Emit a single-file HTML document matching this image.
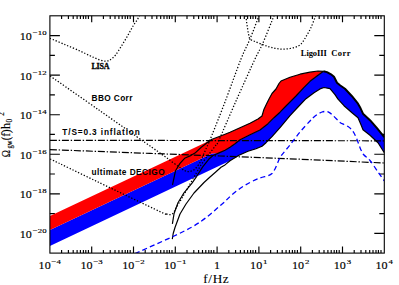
<!DOCTYPE html><html><head><meta charset="utf-8"><style>html,body{margin:0;padding:0;background:#fff}svg{display:block}</style></head><body><svg width="399" height="285" viewBox="0 0 399 285">
<rect width="399" height="285" fill="#fff"/>
<clipPath id="c"><rect x="49.9" y="15.8" width="334.4" height="237.3"/></clipPath>
<path d="M61.6,15.8v3.2M61.6,253.1v-3.2M68.4,15.8v3.2M68.4,253.1v-3.2M73.2,15.8v3.2M73.2,253.1v-3.2M77.1,15.8v3.2M77.1,253.1v-3.2M80.4,15.8v3.2M80.4,253.1v-3.2M83.4,15.8v3.2M83.4,253.1v-3.2M85.8,15.8v3.2M85.8,253.1v-3.2M88.4,15.8v3.2M88.4,253.1v-3.2M91.7,15.8v6.5M91.7,253.1v-6.5M103.4,15.8v3.2M103.4,253.1v-3.2M110.2,15.8v3.2M110.2,253.1v-3.2M115.0,15.8v3.2M115.0,253.1v-3.2M118.9,15.8v3.2M118.9,253.1v-3.2M122.2,15.8v3.2M122.2,253.1v-3.2M125.2,15.8v3.2M125.2,253.1v-3.2M127.6,15.8v3.2M127.6,253.1v-3.2M130.2,15.8v3.2M130.2,253.1v-3.2M133.5,15.8v6.5M133.5,253.1v-6.5M145.2,15.8v3.2M145.2,253.1v-3.2M152.0,15.8v3.2M152.0,253.1v-3.2M156.8,15.8v3.2M156.8,253.1v-3.2M160.7,15.8v3.2M160.7,253.1v-3.2M164.0,15.8v3.2M164.0,253.1v-3.2M167.0,15.8v3.2M167.0,253.1v-3.2M169.4,15.8v3.2M169.4,253.1v-3.2M172.0,15.8v3.2M172.0,253.1v-3.2M175.3,15.8v6.5M175.3,253.1v-6.5M187.0,15.8v3.2M187.0,253.1v-3.2M193.8,15.8v3.2M193.8,253.1v-3.2M198.6,15.8v3.2M198.6,253.1v-3.2M202.5,15.8v3.2M202.5,253.1v-3.2M205.8,15.8v3.2M205.8,253.1v-3.2M208.8,15.8v3.2M208.8,253.1v-3.2M211.2,15.8v3.2M211.2,253.1v-3.2M213.8,15.8v3.2M213.8,253.1v-3.2M217.1,15.8v6.5M217.1,253.1v-6.5M228.8,15.8v3.2M228.8,253.1v-3.2M235.6,15.8v3.2M235.6,253.1v-3.2M240.4,15.8v3.2M240.4,253.1v-3.2M244.3,15.8v3.2M244.3,253.1v-3.2M247.6,15.8v3.2M247.6,253.1v-3.2M250.6,15.8v3.2M250.6,253.1v-3.2M253.0,15.8v3.2M253.0,253.1v-3.2M255.6,15.8v3.2M255.6,253.1v-3.2M258.9,15.8v6.5M258.9,253.1v-6.5M270.6,15.8v3.2M270.6,253.1v-3.2M277.4,15.8v3.2M277.4,253.1v-3.2M282.2,15.8v3.2M282.2,253.1v-3.2M286.1,15.8v3.2M286.1,253.1v-3.2M289.4,15.8v3.2M289.4,253.1v-3.2M292.4,15.8v3.2M292.4,253.1v-3.2M294.8,15.8v3.2M294.8,253.1v-3.2M297.4,15.8v3.2M297.4,253.1v-3.2M300.7,15.8v6.5M300.7,253.1v-6.5M312.4,15.8v3.2M312.4,253.1v-3.2M319.2,15.8v3.2M319.2,253.1v-3.2M324.0,15.8v3.2M324.0,253.1v-3.2M327.9,15.8v3.2M327.9,253.1v-3.2M331.2,15.8v3.2M331.2,253.1v-3.2M334.2,15.8v3.2M334.2,253.1v-3.2M336.6,15.8v3.2M336.6,253.1v-3.2M339.2,15.8v3.2M339.2,253.1v-3.2M342.5,15.8v6.5M342.5,253.1v-6.5M354.2,15.8v3.2M354.2,253.1v-3.2M361.0,15.8v3.2M361.0,253.1v-3.2M365.8,15.8v3.2M365.8,253.1v-3.2M369.7,15.8v3.2M369.7,253.1v-3.2M373.0,15.8v3.2M373.0,253.1v-3.2M376.0,15.8v3.2M376.0,253.1v-3.2M378.4,15.8v3.2M378.4,253.1v-3.2M381.0,15.8v3.2M381.0,253.1v-3.2M49.9,233.3h10 M384.3,233.3h-10M49.9,213.6h5 M384.3,213.6h-5M49.9,193.8h10 M384.3,193.8h-10M49.9,174.0h5 M384.3,174.0h-5M49.9,154.2h10 M384.3,154.2h-10M49.9,134.4h5 M384.3,134.4h-5M49.9,114.7h10 M384.3,114.7h-10M49.9,94.9h5 M384.3,94.9h-5M49.9,75.1h10 M384.3,75.1h-10M49.9,55.3h5 M384.3,55.3h-5M49.9,35.6h10 M384.3,35.6h-10" stroke="#000" stroke-width="1.15" fill="none"/>
<g clip-path="url(#c)">
<path d="M49.9,230.0 L212.0,153.4 L219.0,152.9 L225.0,150.2 L230.0,147.2 L235.0,143.7 L240.0,139.7 L250.0,134.7 L260.0,130.0 L268.0,123.7 L274.0,117.7 L280.0,112.2 L285.0,107.0 L296.0,96.0 L304.0,87.3 L310.0,81.3 L318.0,75.2 L323.5,71.3 L327.0,72.1 L331.0,74.3 L334.0,76.7 L337.0,82.7 L340.0,85.2 L345.0,88.7 L352.0,96.2 L358.0,103.7 L360.0,107.2 L363.0,113.7 L370.0,120.2 L377.0,128.2 L384.3,137.2 L384.3,152.7 L378.0,142.7 L370.0,135.2 L363.0,129.7 L361.0,124.7 L358.0,117.7 L352.0,112.7 L344.0,105.7 L338.0,99.2 L335.0,94.7 L330.0,88.7 L324.0,87.5 L320.0,88.9 L314.0,92.7 L306.0,98.7 L298.0,107.0 L290.0,115.7 L280.0,127.7 L272.0,136.7 L266.0,142.7 L262.0,146.2 L256.0,148.7 L248.0,151.2 L239.0,155.3 L230.0,160.8 L49.9,246.0 Z" fill="#0000ff"/>
<path d="M49.9,216.0 L212.0,139.4 L220.0,136.2 L230.0,132.2 L240.0,127.7 L250.0,123.2 L258.0,119.0 L262.0,116.0 L264.0,109.2 L266.5,104.0 L269.0,99.0 L272.0,93.5 L276.0,89.0 L279.0,83.5 L281.0,81.0 L290.0,77.2 L300.0,74.2 L310.0,72.2 L318.0,71.0 L323.5,71.3 L323.5,71.3 L318.0,75.2 L310.0,81.3 L304.0,87.3 L296.0,96.0 L285.0,107.0 L280.0,112.2 L274.0,117.7 L268.0,123.7 L260.0,130.0 L250.0,134.7 L240.0,139.7 L235.0,143.7 L230.0,147.2 L225.0,150.2 L219.0,152.9 L212.0,153.4 L49.9,230.0 Z" fill="#ff0000"/>
<g fill="none" stroke="#000" stroke-width="1.2" stroke-linejoin="round">
<path d="M172.5,184.8 L175.5,170.8 L180.0,163.4 L184.6,158.3 L190.6,155.6 L195.0,153.1 L201.0,147.5 L207.0,142.7 L212.0,139.2 L220.0,136.2 L230.0,132.2 L240.0,127.7 L250.0,123.2 L258.0,119.0 L262.0,116.0 L264.0,109.2 L266.5,104.0 L269.0,99.0 L272.0,93.5 L276.0,89.0 L279.0,83.5 L281.0,81.0 L290.0,77.2 L300.0,74.2 L310.0,72.2 L318.0,71.0 L323.5,71.3"/>
<path d="M172.4,223.8 L174.0,213.8 L178.0,202.8 L184.0,192.8 L192.0,183.2 L196.7,176.3 L202.7,166.9 L208.7,159.3 L213.0,155.5 L219.0,152.9 L225.0,150.2 L230.0,147.2 L235.0,143.7 L240.0,139.7 L250.0,134.7 L260.0,130.0 L268.0,123.7 L274.0,117.7 L280.0,112.2 L285.0,107.0 L296.0,96.0 L304.0,87.3 L310.0,81.3 L318.0,75.2 L323.5,71.3"/>
<path d="M172.3,239.2 L173.2,233.5 L175.0,227.5 L180.0,214.0 L186.0,204.0 L194.0,193.0 L204.0,182.5 L210.0,177.0 L216.0,171.8 L221.0,167.3 L225.0,164.9 L230.0,160.7 L239.0,155.3 L248.0,151.2 L256.0,148.7 L262.0,146.2 L266.0,142.7 L272.0,136.7 L280.0,127.7 L290.0,115.7 L298.0,107.0 L306.0,98.7 L314.0,92.7 L320.0,88.9 L324.0,87.5 L330.0,88.7 L335.0,94.7 L338.0,99.2 L344.0,105.7 L352.0,112.7 L358.0,117.7 L361.0,124.7 L363.0,129.7 L370.0,135.2 L378.0,142.7 L384.3,152.7"/>
<path d="M323.5,71.3 L327.0,72.1 L331.0,74.3 L334.0,76.7 L337.0,82.7 L340.0,85.2 L345.0,88.7 L352.0,96.2 L358.0,103.7 L360.0,107.2 L363.0,113.7 L370.0,120.2 L377.0,128.2 L384.3,137.2" stroke-width="2"/>
</g>
<g fill="none" stroke="#000" stroke-width="1.25" stroke-dasharray="1.3 1.8">
<path d="M49.90,38.30 C52.42,39.35 59.98,42.48 65.00,44.60 C70.02,46.72 75.83,49.13 80.00,51.00 C84.17,52.87 87.50,54.63 90.00,55.80 C92.50,56.97 93.33,57.30 95.00,58.00 C96.67,58.70 98.33,59.47 100.00,60.00 C101.67,60.53 103.67,61.05 105.00,61.20 C106.33,61.35 107.17,61.08 108.00,60.90 C108.83,60.72 108.78,61.03 110.00,60.10 C111.22,59.17 113.37,57.68 115.30,55.30 C117.23,52.92 119.50,49.13 121.60,45.80 C123.70,42.47 125.97,38.63 127.90,35.30 C129.83,31.97 131.62,28.43 133.20,25.80 C134.78,23.17 136.35,21.17 137.40,19.50 C138.45,17.83 139.15,16.42 139.50,15.80"/>
<path d="M50.20,76.00 C58.50,81.80 84.20,99.72 100.00,110.80 C115.80,121.88 134.17,134.87 145.00,142.50 C155.83,150.13 160.42,153.32 165.00,156.60 C169.58,159.88 170.00,160.37 172.50,162.20 C175.00,164.03 177.92,166.17 180.00,167.60 C182.08,169.03 183.67,170.13 185.00,170.80 C186.33,171.47 187.00,171.53 188.00,171.60 C189.00,171.67 189.83,171.63 191.00,171.20 C192.17,170.77 193.55,170.37 195.00,169.00 C196.45,167.63 198.42,165.07 199.70,163.00 C200.98,160.93 201.70,158.85 202.70,156.60 C203.70,154.35 204.70,151.77 205.70,149.50 C206.70,147.23 207.65,145.42 208.70,143.00 C209.75,140.58 209.28,141.83 212.00,135.00 C214.72,128.17 220.17,114.67 225.00,102.00 C229.83,89.33 236.83,69.50 241.00,59.00 C245.17,48.50 247.00,46.20 250.00,39.00 C253.00,31.80 257.50,19.67 259.00,15.80"/>
<path d="M50.20,159.00 C58.17,162.83 79.70,173.23 98.00,182.00 C116.30,190.77 148.67,206.30 160.00,211.60 C171.33,216.90 164.33,213.30 166.00,213.80 C167.67,214.30 168.92,214.60 170.00,214.60 C171.08,214.60 171.83,214.23 172.50,213.80 C173.17,213.37 173.42,212.97 174.00,212.00 C174.58,211.03 174.67,210.33 176.00,208.00 C177.33,205.67 179.67,202.00 182.00,198.00 C184.33,194.00 187.55,188.27 190.00,184.00 C192.45,179.73 194.87,175.57 196.70,172.40 C198.53,169.23 199.28,167.63 201.00,165.00 C202.72,162.37 205.20,159.00 207.00,156.60 C208.80,154.20 210.25,152.62 211.80,150.60 C213.35,148.58 215.10,146.27 216.30,144.50 C217.50,142.73 215.72,147.25 219.00,140.00 C222.28,132.75 230.00,114.50 236.00,101.00 C242.00,87.50 250.58,68.50 255.00,59.00 C259.42,49.50 259.33,51.20 262.50,44.00 C265.67,36.80 272.08,20.50 274.00,15.80"/>
<path d="M246.00,15.80 C246.10,16.83 246.35,19.97 246.60,22.00 C246.85,24.03 247.18,26.00 247.50,28.00 C247.82,30.00 248.08,32.17 248.50,34.00 C248.92,35.83 248.92,37.75 250.00,39.00 C251.08,40.25 252.92,40.58 255.00,41.50 C257.08,42.42 260.17,43.62 262.50,44.50 C264.83,45.38 266.92,46.17 269.00,46.80 C271.08,47.43 273.17,47.93 275.00,48.30 C276.83,48.67 278.33,48.88 280.00,49.00 C281.67,49.12 283.33,49.08 285.00,49.00 C286.67,48.92 288.33,48.78 290.00,48.50 C291.67,48.22 293.50,47.78 295.00,47.30 C296.50,46.82 297.75,46.43 299.00,45.60 C300.25,44.77 301.25,43.93 302.50,42.30 C303.75,40.67 305.08,38.25 306.50,35.80 C307.92,33.35 309.48,30.93 311.00,27.60 C312.52,24.27 314.83,17.77 315.60,15.80"/>
</g>
<g fill="none" stroke="#000" stroke-width="1.2" stroke-dasharray="7 1.8 1.4 1.8">
<path d="M49.9,140.3 L384.3,140.8"/>
<path d="M49.9,149.6 L150,153.4 L220,156 L300,159.2 L384.3,163"/>
</g>
<path d="M135.00,253.60 C144.50,249.17 177.67,235.10 192.00,227.00 C206.33,218.90 214.67,210.08 221.00,205.00 C227.33,199.92 226.83,199.25 230.00,196.50 C233.17,193.75 236.67,190.83 240.00,188.50 C243.33,186.17 246.67,184.25 250.00,182.50 C253.33,180.75 257.00,179.12 260.00,178.00 C263.00,176.88 266.00,176.55 268.00,175.80 C270.00,175.05 270.83,174.63 272.00,173.50 C273.17,172.37 274.00,170.92 275.00,169.00 C276.00,167.08 277.00,164.17 278.00,162.00 C279.00,159.83 279.00,158.83 281.00,156.00 C283.00,153.17 286.83,149.00 290.00,145.00 C293.17,141.00 296.67,136.00 300.00,132.00 C303.33,128.00 307.67,123.50 310.00,121.00 C312.33,118.50 312.67,118.17 314.00,117.00 C315.33,115.83 316.67,114.83 318.00,114.00 C319.33,113.17 320.67,112.43 322.00,112.00 C323.33,111.57 324.83,111.35 326.00,111.40 C327.17,111.45 328.00,111.78 329.00,112.30 C330.00,112.82 330.83,113.47 332.00,114.50 C333.17,115.53 334.67,117.17 336.00,118.50 C337.33,119.83 338.67,121.50 340.00,122.50 C341.33,123.50 342.67,123.83 344.00,124.50 C345.33,125.17 346.83,125.75 348.00,126.50 C349.17,127.25 350.00,127.92 351.00,129.00 C352.00,130.08 353.00,131.25 354.00,133.00 C355.00,134.75 356.17,137.50 357.00,139.50 C357.83,141.50 358.33,143.25 359.00,145.00 C359.67,146.75 360.17,148.33 361.00,150.00 C361.83,151.67 362.50,153.25 364.00,155.00 C365.50,156.75 367.67,157.67 370.00,160.50 C372.33,163.33 375.62,168.58 378.00,172.00 C380.38,175.42 383.25,179.50 384.30,181.00" fill="none" stroke="#0000ff" stroke-width="1.3" stroke-dasharray="5 3.2"/>
</g>
<rect x="49.9" y="15.8" width="334.4" height="237.3" stroke="#000" stroke-width="1.1" fill="none"/>
<g font-family="Liberation Serif, serif" fill="#000" stroke="#000" stroke-width="0.15">
<text transform="translate(19.8,237.8) scale(1.07,1)" font-size="11.3">10</text><text transform="translate(32.8,232.8) scale(1.24,1)" font-size="7.1">−20</text>
<text transform="translate(19.8,198.3) scale(1.07,1)" font-size="11.3">10</text><text transform="translate(32.8,193.3) scale(1.24,1)" font-size="7.1">−18</text>
<text transform="translate(19.8,158.7) scale(1.07,1)" font-size="11.3">10</text><text transform="translate(32.8,153.7) scale(1.24,1)" font-size="7.1">−16</text>
<text transform="translate(19.8,119.2) scale(1.07,1)" font-size="11.3">10</text><text transform="translate(32.8,114.2) scale(1.24,1)" font-size="7.1">−14</text>
<text transform="translate(19.8,79.6) scale(1.07,1)" font-size="11.3">10</text><text transform="translate(32.8,74.6) scale(1.24,1)" font-size="7.1">−12</text>
<text transform="translate(19.8,40.1) scale(1.07,1)" font-size="11.3">10</text><text transform="translate(32.8,35.1) scale(1.24,1)" font-size="7.1">−10</text>
<text transform="translate(38.6,268.7) scale(1.07,1)" font-size="11.3">10</text><text transform="translate(51.6,263.7) scale(1.24,1)" font-size="7.1">−4</text>
<text transform="translate(80.4,268.7) scale(1.07,1)" font-size="11.3">10</text><text transform="translate(93.4,263.7) scale(1.24,1)" font-size="7.1">−3</text>
<text transform="translate(122.2,268.7) scale(1.07,1)" font-size="11.3">10</text><text transform="translate(135.2,263.7) scale(1.24,1)" font-size="7.1">−2</text>
<text transform="translate(164.0,268.7) scale(1.07,1)" font-size="11.3">10</text><text transform="translate(177.0,263.7) scale(1.24,1)" font-size="7.1">−1</text>
<text transform="translate(217.1,268.7) scale(1.07,1)" font-size="11.3" text-anchor="middle">1</text>
<text transform="translate(250.1,268.7) scale(1.07,1)" font-size="11.3">10</text><text transform="translate(263.1,263.7) scale(1.24,1)" font-size="7.1">1</text>
<text transform="translate(291.9,268.7) scale(1.07,1)" font-size="11.3">10</text><text transform="translate(304.9,263.7) scale(1.24,1)" font-size="7.1">2</text>
<text transform="translate(333.7,268.7) scale(1.07,1)" font-size="11.3">10</text><text transform="translate(346.7,263.7) scale(1.24,1)" font-size="7.1">3</text>
<text transform="translate(375.5,268.7) scale(1.07,1)" font-size="11.3">10</text><text transform="translate(388.5,263.7) scale(1.24,1)" font-size="7.1">4</text>
<text transform="translate(216.3,283) scale(1.15,1)" text-anchor="middle" font-size="11.5" letter-spacing="0.6" stroke-width="0.1">f/Hz</text>
<g transform="translate(9.6,157.2) rotate(-90)" stroke-width="0.15"><text transform="translate(0,0) scale(0.82,1)" font-size="12">Ω</text><text transform="translate(8.6,2.6) scale(0.88,1)" font-size="7.4">gw</text><text transform="translate(17,0) scale(0.9,1)" font-size="12">(f)</text><text x="28.2" y="0" font-size="12">h</text><text x="34.6" y="2.6" font-size="7.4">0</text><text x="41.4" y="-5.4" font-size="7.4">2</text></g>
</g>
<g font-family="Liberation Sans, sans-serif" font-size="8.3" font-weight="bold" fill="#000">
<text x="91.5" y="69" textLength="18" font-family="Liberation Serif, serif" font-size="8" stroke="#000" stroke-width="0.3">LISA</text>
<text x="91.6" y="100.8" textLength="40.8">BBO Corr</text>
<text x="62.3" y="135" textLength="77.5">T/S=0.3 inflation</text>
<text x="91.6" y="174.6" textLength="73">ultimate DECIGO</text>
<text x="300.8" y="56" textLength="26" font-family="Liberation Serif, serif" font-size="8.5">LigoIII</text><text x="331.2" y="56" textLength="19.3" font-family="Liberation Serif, serif" font-size="8.5">Corr</text>
</g>
</svg></body></html>
